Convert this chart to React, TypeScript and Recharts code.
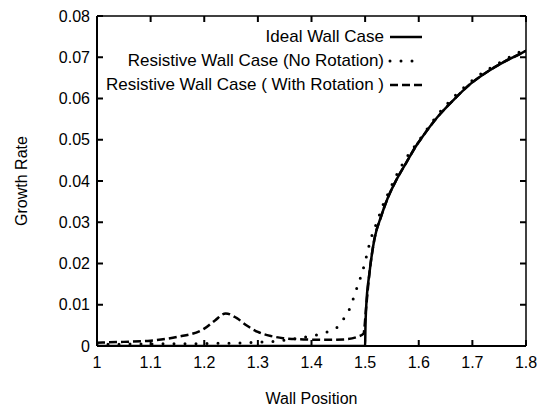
import { LineChart, Line, XAxis, YAxis, Legend, Label } from 'recharts';

const xTicks = [1, 1.1, 1.2, 1.3, 1.4, 1.5, 1.6, 1.7, 1.8];
const yTicks = [0, 0.01, 0.02, 0.03, 0.04, 0.05, 0.06, 0.07, 0.08];

// growth rate vs wall position
const idealWall = [
  { x: 1.0, y: 0 },
  { x: 1.5, y: 0 },
  { x: 1.5005, y: 0.004 },
  { x: 1.502, y: 0.0095 },
  { x: 1.508, y: 0.0176 },
  { x: 1.517, y: 0.0257 },
  { x: 1.53, y: 0.0315 },
  { x: 1.542, y: 0.0358 },
  { x: 1.558, y: 0.0402 },
  { x: 1.576, y: 0.0443 },
  { x: 1.598, y: 0.0491 },
  { x: 1.604, y: 0.0502 },
  { x: 1.635, y: 0.0555 },
  { x: 1.666, y: 0.0598 },
  { x: 1.697, y: 0.0636 },
  { x: 1.728, y: 0.0665 },
  { x: 1.759, y: 0.0689 },
  { x: 1.79, y: 0.0709 },
  { x: 1.8, y: 0.0716 },
];

const resistiveNoRotation = [
  { x: 1.0, y: 0.0004 },
  { x: 1.1, y: 0.0005 },
  { x: 1.2, y: 0.0006 },
  { x: 1.3, y: 0.0009 },
  { x: 1.35, y: 0.0014 },
  { x: 1.38, y: 0.002 },
  { x: 1.41, y: 0.0027 },
  { x: 1.431, y: 0.0035 },
  { x: 1.45, y: 0.0048 },
  { x: 1.4625, y: 0.0071 },
  { x: 1.472, y: 0.0093 },
  { x: 1.479, y: 0.0119 },
  { x: 1.4855, y: 0.0144 },
  { x: 1.4924, y: 0.017 },
  { x: 1.498, y: 0.0194 },
  { x: 1.503, y: 0.022 },
  { x: 1.508, y: 0.0247 },
  { x: 1.514, y: 0.0273 },
  { x: 1.5216, y: 0.0299 },
  { x: 1.529, y: 0.0326 },
  { x: 1.5357, y: 0.035 },
  { x: 1.5445, y: 0.0374 },
  { x: 1.5525, y: 0.0398 },
  { x: 1.562, y: 0.0423 },
  { x: 1.5725, y: 0.0447 },
  { x: 1.5837, y: 0.0469 },
  { x: 1.599, y: 0.0496 },
  { x: 1.635, y: 0.056 },
  { x: 1.697, y: 0.0641 },
  { x: 1.759, y: 0.0693 },
  { x: 1.8, y: 0.072 },
];

const resistiveWithRotation = [
  { x: 1.0, y: 0.0008 },
  { x: 1.05, y: 0.001 },
  { x: 1.1, y: 0.0013 },
  { x: 1.15, y: 0.0022 },
  { x: 1.2, y: 0.0042 },
  { x: 1.22, y: 0.0062 },
  { x: 1.24, y: 0.0079 },
  { x: 1.26, y: 0.0068 },
  { x: 1.28, y: 0.0049 },
  { x: 1.3, y: 0.0034 },
  { x: 1.325, y: 0.0024 },
  { x: 1.347, y: 0.0019 },
  { x: 1.385, y: 0.0016 },
  { x: 1.422, y: 0.0015 },
  { x: 1.46, y: 0.0016 },
  { x: 1.487, y: 0.0023 },
  { x: 1.497, y: 0.003 },
  { x: 1.502, y: 0.0095 },
  { x: 1.508, y: 0.0176 },
  { x: 1.517, y: 0.0257 },
  { x: 1.53, y: 0.0315 },
  { x: 1.542, y: 0.0358 },
  { x: 1.558, y: 0.0402 },
  { x: 1.576, y: 0.0443 },
  { x: 1.598, y: 0.0491 },
  { x: 1.604, y: 0.0502 },
  { x: 1.635, y: 0.0555 },
  { x: 1.666, y: 0.0598 },
  { x: 1.697, y: 0.0636 },
  { x: 1.728, y: 0.0665 },
  { x: 1.759, y: 0.0689 },
  { x: 1.79, y: 0.0709 },
  { x: 1.8, y: 0.0716 },
];

const FONT = '"Liberation Sans", Arial, sans-serif';

const series = [
  { name: 'Ideal Wall Case', dash: undefined as string | undefined, cap: 'butt' as const, width: 2.5 },
  { name: 'Resistive Wall Case (No Rotation)', dash: '0 11', cap: 'round' as const, width: 3 },
  { name: 'Resistive Wall Case ( With Rotation )', dash: '8 4', cap: 'butt' as const, width: 2.5 },
];

// layout
const CHART_W = 544;
const CHART_H = 408;
const M_TOP = 16;
const M_RIGHT = 18;
const Y_AXIS_W = 97;
const X_AXIS_H = 62;
const PLOT_W = CHART_W - Y_AXIS_W - M_RIGHT;
const PLOT_H = CHART_H - M_TOP - X_AXIS_H;
const X_TICK_MARGIN = 11;
const Y_TICK_MARGIN = 7;
const TICK_LEN = 6;

const LegendBox = () => (
  <div style={{ fontFamily: FONT, fontSize: 17, color: '#000' }}>
    {series.map((s) => (
      <div key={s.name} style={{ display: 'flex', justifyContent: 'flex-end', alignItems: 'center', height: 24 }}>
        <span style={{ whiteSpace: 'pre' }}>{s.name}</span>
        <svg width={40} height={10} style={{ marginLeft: 2 }}>
          <line
            x1={4}
            x2={36}
            y1={5}
            y2={5}
            stroke="#000"
            strokeWidth={s.width}
            strokeDasharray={s.dash}
            strokeLinecap={s.cap}
          />
        </svg>
      </div>
    ))}
  </div>
);

type TickProps = { x: number; y: number; index: number; payload: { value: number } };

// x tick: label plus inward marks on the bottom and top edges;
// the first tick also draws the top edge of the frame
const XTick = ({ x, y, index, payload }: TickProps) => {
  const bottom = y - X_TICK_MARGIN;
  const top = bottom - PLOT_H;
  return (
    <g>
      <line x1={x} x2={x} y1={bottom} y2={bottom - TICK_LEN} stroke="#000" strokeWidth={2} />
      <line x1={x} x2={x} y1={top} y2={top + TICK_LEN} stroke="#000" strokeWidth={2} />
      {index === 0 && <line x1={x} x2={x + PLOT_W} y1={top} y2={top} stroke="#000" strokeWidth={1.5} />}
      <text x={x} y={y} dy="0.71em" textAnchor="middle" fontSize={16} fill="#000" fontFamily={FONT}>
        {String(payload.value)}
      </text>
    </g>
  );
};

// y tick: label plus inward marks on the left and right edges;
// the first tick also draws the right edge of the frame
const YTick = ({ x, y, index, payload }: TickProps) => {
  const left = x + Y_TICK_MARGIN;
  const right = left + PLOT_W;
  return (
    <g>
      <line x1={left} x2={left + TICK_LEN} y1={y} y2={y} stroke="#000" strokeWidth={2} />
      <line x1={right} x2={right - TICK_LEN} y1={y} y2={y} stroke="#000" strokeWidth={2} />
      {index === 0 && <line x1={right} x2={right} y1={y} y2={y - PLOT_H} stroke="#000" strokeWidth={1.5} />}
      <text x={x} y={y} dy="0.355em" textAnchor="end" fontSize={16} fill="#000" fontFamily={FONT}>
        {payload.value === 0 ? '0' : payload.value.toFixed(2)}
      </text>
    </g>
  );
};

const frame = { stroke: '#000', strokeWidth: 2 };

export default function App() {
  return (
    <div style={{ position: 'absolute', left: 0, top: 0, background: '#fff' }}>
      <LineChart width={CHART_W} height={CHART_H} margin={{ top: M_TOP, right: M_RIGHT, left: 0, bottom: 0 }}>
        <XAxis
          type="number"
          dataKey="x"
          domain={[1, 1.8]}
          ticks={xTicks}
          tick={(p: TickProps) => <XTick {...p} />}
          tickSize={0}
          tickMargin={X_TICK_MARGIN}
          tickLine={false}
          axisLine={frame}
          height={X_AXIS_H}
          interval={0}
          allowDataOverflow
        >
          <Label value="Wall Position" position="insideBottom" offset={4} style={{ fontSize: 16, fill: '#000', fontFamily: FONT }} />
        </XAxis>
        <YAxis
          type="number"
          dataKey="y"
          domain={[0, 0.08]}
          ticks={yTicks}
          tick={(p: TickProps) => <YTick {...p} />}
          tickSize={0}
          tickMargin={Y_TICK_MARGIN}
          tickLine={false}
          axisLine={frame}
          width={Y_AXIS_W}
          interval={0}
          allowDataOverflow
        >
          <Label value="Growth Rate" angle={-90} position="insideLeft" offset={21} style={{ textAnchor: 'middle', fontSize: 16, fill: '#000', fontFamily: FONT }} />
        </YAxis>
        <Legend
          layout="horizontal"
          verticalAlign="middle"
          content={<LegendBox />}
          wrapperStyle={{ top: 25, right: 118, left: 'auto', width: 'auto' }}
        />
        <Line
          data={idealWall}
          dataKey="y"
          name={series[0].name}
          type="monotone"
          stroke="#000"
          strokeWidth={2.5}
          dot={false}
          isAnimationActive={false}
        />
        <Line
          data={resistiveNoRotation}
          dataKey="y"
          name={series[1].name}
          type="monotone"
          stroke="#000"
          strokeWidth={3}
          strokeDasharray="0 11"
          strokeLinecap="round"
          dot={false}
          isAnimationActive={false}
        />
        <Line
          data={resistiveWithRotation}
          dataKey="y"
          name={series[2].name}
          type="monotone"
          stroke="#000"
          strokeWidth={2.5}
          strokeDasharray="8 4"
          dot={false}
          isAnimationActive={false}
        />
      </LineChart>
    </div>
  );
}
